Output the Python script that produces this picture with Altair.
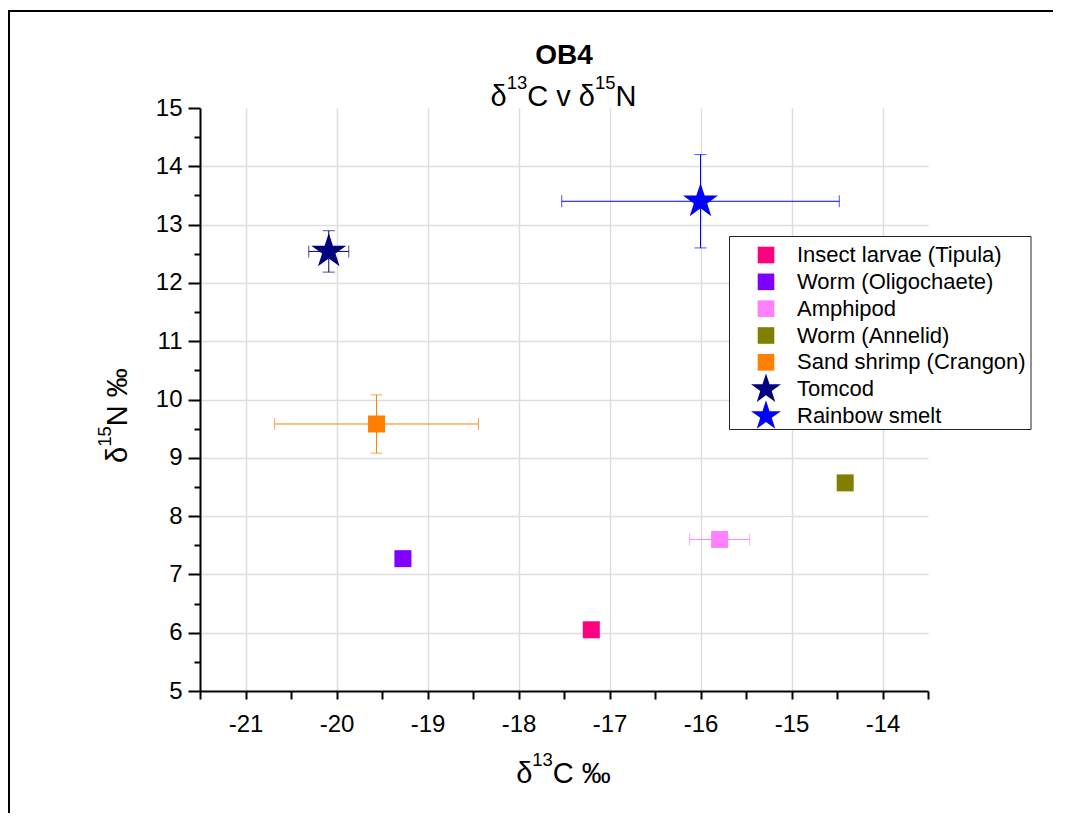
import altair as alt
import pandas as pd

FONT = "Liberation Sans, Arial, sans-serif"

# ---------------- data ----------------
species = [
    "Insect larvae (Tipula)",
    "Worm (Oligochaete)",
    "Amphipod",
    "Worm (Annelid)",
    "Sand shrimp (Crangon)",
    "Tomcod",
    "Rainbow smelt",
]
d13c = [-17.20, -19.27, -15.79, -14.41, -19.56, -20.085, -16.00]
d15n = [6.05, 7.27, 7.60, 8.57, 9.58, 12.54, 13.40]
d13c_sd = [0.0, 0.0, 0.33, 0.0, 1.12, 0.22, 1.525]
d15n_sd = [0.0, 0.0, 0.0, 0.0, 0.50, 0.355, 0.80]
colors = ["#FF0080", "#8000FF", "#FF80FF", "#808000", "#FF8000", "#000080", "#0000FF"]

x_ticks = [-21.5, -21, -20.5, -20, -19.5, -19, -18.5, -18, -17.5, -17,
           -16.5, -16, -15.5, -15, -14.5, -14, -13.5]
y_ticks = [5, 5.5, 6, 6.5, 7, 7.5, 8, 8.5, 9, 9.5, 10, 10.5, 11, 11.5,
           12, 12.5, 13, 13.5, 14, 14.5, 15]

title_text = "OB4"
# rich texts: (text, is_superscript)
subtitle_parts = [("δ", False), ("13", True), ("C v δ", False), ("15", True), ("N", False)]
x_title_parts = [("δ", False), ("13", True), ("C ‰", False)]
y_title_parts = [("δ", False), ("15", True), ("N   ‰", False)]

STAR = ("M0,-1L0.225,-0.309L0.951,-0.309L0.363,0.118L0.588,0.809L0,0.382"
        "L-0.588,0.809L-0.363,0.118L-0.951,-0.309L-0.225,-0.309Z")
shapes = ["square"] * 5 + [STAR, STAR]

df = pd.DataFrame({
    "species": species,
    "d13c": d13c,
    "d15n": d15n,
    "c_sd": d13c_sd,
    "n_sd": d15n_sd,
})
one = pd.DataFrame({"k": [0]})

W, H = 728, 583

xscale = alt.Scale(domain=[-21.5, -13.5], nice=False, zero=False)
yscale = alt.Scale(domain=[5, 15], nice=False, zero=False)

color_enc = alt.Color("species:N", scale=alt.Scale(domain=species, range=colors), legend=None)
shape_enc = alt.Shape("species:N", scale=alt.Scale(domain=species, range=shapes), legend=None)
is_fish = "indexof(['Tomcod', 'Rainbow smelt'], datum.species) >= 0"

x_axis = alt.Axis(
    values=x_ticks,
    labelExpr="datum.value % 1 == 0 ? '' + datum.value : ''",
    tickSize=8, tickWidth=2, tickColor="black",
    domainColor="black", domainWidth=2,
    grid=True, gridColor="#dddddd", gridWidth=1.5,
    gridOpacity={"condition": {"test": "datum.value % 1 == 0", "value": 1}, "value": 0},
    labelFont=FONT, labelFontSize=24, labelColor="black", labelPadding=13,
    labelFlush=False, labelOverlap=False, title=None,
)
y_axis = alt.Axis(
    values=y_ticks,
    labelExpr="datum.value % 1 == 0 ? '' + datum.value : ''",
    tickSize={"condition": {"test": "datum.value % 1 == 0", "value": 12}, "value": 6},
    tickWidth=2, tickColor="black",
    domainColor="black", domainWidth=2,
    grid=True, gridColor="#dddddd", gridWidth=1.5,
    gridOpacity={"condition": {"test": "datum.value % 1 == 0 && datum.value > 5 && datum.value < 15",
                               "value": 1}, "value": 0},
    labelFont=FONT, labelFontSize=24, labelColor="black", labelPadding=6,
    labelFlush=False, labelOverlap=False, title=None,
)

# outer frame (decoration, clipped by the page on the right / bottom)
frame = alt.Chart(one).mark_rect(filled=False, stroke="black", strokeWidth=2).encode(
    x=alt.value(-191), x2=alt.value(1300), y=alt.value(-97), y2=alt.value(1100)
)

base = alt.Chart(df)

xerr = base.transform_filter("datum.c_sd > 0").transform_calculate(
    lo="datum.d13c - datum.c_sd", hi="datum.d13c + datum.c_sd"
)
yerr = base.transform_filter("datum.n_sd > 0").transform_calculate(
    lo="datum.d15n - datum.n_sd", hi="datum.d15n + datum.n_sd"
)

xerr_rule = xerr.mark_rule(strokeWidth=1).encode(
    x=alt.X("lo:Q", scale=xscale, axis=x_axis), x2="hi:Q",
    y=alt.Y("d15n:Q", scale=yscale, axis=None), color=color_enc,
)
xerr_caps = xerr.transform_fold(["lo", "hi"], as_=["end", "val"]).mark_tick(
    orient="vertical", size=12, thickness=1
).encode(
    x=alt.X("val:Q", scale=xscale, axis=x_axis),
    y=alt.Y("d15n:Q", scale=yscale, axis=None), color=color_enc,
)
yerr_rule = yerr.mark_rule(strokeWidth=1).encode(
    y=alt.Y("lo:Q", scale=yscale, axis=None), y2="hi:Q",
    x=alt.X("d13c:Q", scale=xscale, axis=x_axis), color=color_enc,
)
yerr_caps = yerr.transform_fold(["lo", "hi"], as_=["end", "val"]).mark_tick(
    orient="horizontal", size=12, thickness=1
).encode(
    y=alt.Y("val:Q", scale=yscale, axis=None),
    x=alt.X("d13c:Q", scale=xscale, axis=x_axis), color=color_enc,
)

points = base.mark_point(filled=True, opacity=1, strokeWidth=0).encode(
    x=alt.X("d13c:Q", scale=xscale, axis=x_axis),
    y=alt.Y("d15n:Q", scale=yscale, axis=y_axis),
    color=color_enc,
    shape=shape_enc,
    size=alt.condition(is_fish, alt.value(1354), alt.value(289)),
)

# ---------------- legend (built from the species list) ----------------
leg_y = alt.Y("species:N", axis=None,
              scale=alt.Scale(type="point", domain=species, range=[147, 308], padding=0))

leg_box = alt.Chart(one).mark_rect(fill="white", stroke="#222222", strokeWidth=1).encode(
    x=alt.value(529.5), x2=alt.value(831), y=alt.value(128.5), y2=alt.value(321.5)
)
leg_sym = base.mark_point(filled=True, opacity=1, strokeWidth=0).encode(
    x=alt.value(566), y=leg_y, color=color_enc, shape=shape_enc,
    size=alt.condition(is_fish, alt.value(994), alt.value(276)),
)
leg_txt = base.mark_text(align="left", baseline="middle", font=FONT, fontSize=22,
                         color="black").encode(
    x=alt.value(597), y=leg_y, text="species:N"
)

# ---------------- titles with real superscripts ----------------
ADV = {"δ": 0.556, "1": 0.556, "3": 0.556, "5": 0.556, "C": 0.722, " ": 0.278,
       "v": 0.5, "N": 0.722, "‰": 1.0}
MAIN, SUP, RAISE = 29, 18.5, 16.5


def rich_text(parts, x0, y0, rotated=False):
    layers = []
    pos = 0.0
    for txt, sup in parts:
        size = SUP if sup else MAIN
        shift = RAISE if sup else 0.0
        if rotated:
            x, y, ang = x0 - shift, y0 - pos, 270
        else:
            x, y, ang = x0 + pos, y0 - shift, 0
        layers.append(
            alt.Chart(one).mark_text(text=txt, font=FONT, fontSize=size, angle=ang,
                                     align="left", baseline="alphabetic", color="black")
            .encode(x=alt.value(x), y=alt.value(y))
        )
        pos += sum(ADV.get(ch, 0.556) for ch in txt) * size
    return layers


def total_width(parts):
    return sum(sum(ADV.get(ch, 0.556) for ch in t) * (SUP if s else MAIN) for t, s in parts)


t1 = alt.Chart(one).mark_text(text=title_text, font=FONT, fontSize=28, fontWeight="bold",
                              align="center", baseline="alphabetic", color="black").encode(
    x=alt.value(364), y=alt.value(-44.5)
)
sub_layers = rich_text(subtitle_parts, 363.5 - total_width(subtitle_parts) / 2, -2.5)
xt_layers = rich_text(x_title_parts, 363.5 - total_width(x_title_parts) / 2, 674.7)
yt_layers = rich_text(y_title_parts, -72.7, 299.5 + total_width(y_title_parts) / 2, rotated=True)

chart = alt.layer(
    frame, xerr_rule, yerr_rule, xerr_caps, yerr_caps, points,
    leg_box, leg_sym, leg_txt, t1, *sub_layers, *xt_layers, *yt_layers,
).resolve_scale(
    y="independent"
).properties(
    width=W, height=H,
    autosize=alt.AutoSizeParams(type="none"),
    padding={"left": 192, "top": 100, "right": 125, "bottom": 122},
    background="white",
).configure_view(stroke=None)

chart.save("out.html", embed_options={"renderer": "svg", "actions": False})
